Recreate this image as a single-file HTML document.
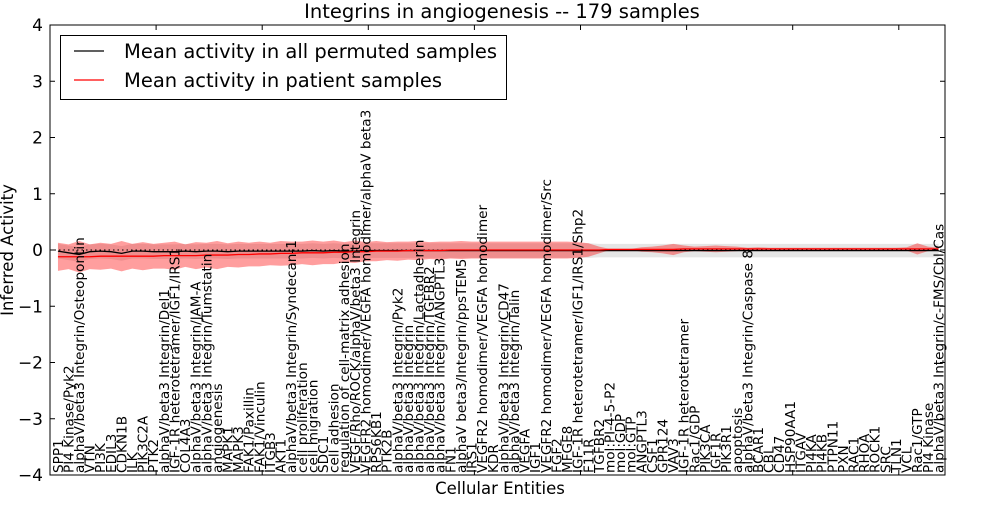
<!DOCTYPE html>
<html><head><meta charset="utf-8"><style>
body{margin:0;background:#fff;width:1000px;height:500px;overflow:hidden}
svg{font-family:"DejaVu Sans","Liberation Sans",sans-serif}
</style></head><body>
<svg id="chart" width="1000" height="500" viewBox="0 0 1000 500" xmlns="http://www.w3.org/2000/svg">
<g id="bands"></g><g id="lines"></g><g id="labels"></g><g id="axes"></g>
</svg>
<script>
const categories=["SPP1","PI4 Kinase/Pyk2","alphaV/beta3 Integrin/Osteopontin","VTN","PI3K","EDIL3","CDKN1B","ILK","PIK3C2A","PTK2","alphaV/beta3 Integrin/Del1","IGF-1R heterotetramer/IGF1/IRS1","COL4A3","alphaV/beta3 Integrin/JAM-A","alphaV/beta3 Integrin/Tumstatin","angiogenesis","MAPK1","MAPK3","FAK1/Paxillin","FAK1/Vinculin","ITGB3","AKT1","alphaV/beta3 Integrin/Syndecan-1","cell proliferation","cell migration","SDC1","cell adhesion","regulation of cell-matrix adhesion","VEGF/Rho/ROCK/alphaV/beta3 Integrin","VEGFR2 homodimer/VEGFA homodimer/alphaV beta3","RPS6KB1","PTK2B","alphaV/beta3 Integrin/Pyk2","alphaV/beta3 Integrin","alphaV/beta3 Integrin/Lactadherin","alphaV/beta3 Integrin/TGFBR2","alphaV/beta3 Integrin/ANGPTL3","FN1","alphaV beta3/Integrin/ppsTEM5","IRS1","VEGFR2 homodimer/VEGFA homodimer","KDR","alphaV/beta3 Integrin/CD47","alphaV/beta3 Integrin/Talin","VEGFA","IGF1","VEGFR2 homodimer/VEGFA homodimer/Src","FGF2","MFGE8","IGF-1R heterotetramer/IGF1/IRS1/Shp2","F11R","TGFBR2","mol:PI-4-5-P2","mol:GDP","mol:GTP","ANGPTL3","CSF1","GPR124","VAV3","IGF-1R heterotetramer","Rac1/GDP","PIK3CA","IGF1R","PIK3R1","apoptosis","alphaV/beta3 Integrin/Caspase 8","BCAR1","CBL","CD47","HSP90AA1","ITGAV","PI4KA","PI4KB","PTPN11","PXN","RAC1","RHOA","ROCK1","SRC","TLN1","VCL","Rac1/GTP","PI4 Kinase","alphaV/beta3 Integrin/c-FMS/Cbl/Cas"];
const permMean=[-0.02,-0.05,-0.08,-0.03,-0.02,-0.03,-0.06,-0.02,-0.02,-0.03,-0.03,-0.03,-0.02,-0.03,-0.02,-0.02,-0.03,-0.02,-0.02,-0.02,-0.02,-0.02,-0.02,-0.02,-0.01,-0.02,-0.01,-0.02,-0.02,-0.01,-0.01,-0.01,-0.01,-0.01,-0.01,-0.01,-0.01,-0.01,-0.01,-0.01,-0.01,-0.01,-0.01,-0.01,-0.01,-0.01,-0.01,-0.01,-0.01,-0.01,-0.01,-0.01,-0.01,-0.01,-0.01,-0.01,-0.01,-0.01,-0.01,-0.01,-0.01,-0.01,-0.01,-0.01,-0.01,-0.01,-0.01,-0.01,-0.01,-0.01,-0.01,-0.01,-0.01,-0.01,-0.01,-0.01,-0.01,-0.01,-0.01,-0.01,-0.01,-0.01,-0.01,-0.01];
const permSd=[0.13,0.13,0.13,0.13,0.13,0.13,0.13,0.13,0.13,0.13,0.13,0.13,0.13,0.13,0.13,0.13,0.13,0.13,0.13,0.13,0.13,0.13,0.13,0.13,0.13,0.13,0.13,0.13,0.13,0.13,0.13,0.13,0.13,0.13,0.13,0.13,0.13,0.13,0.13,0.13,0.13,0.13,0.13,0.13,0.13,0.13,0.13,0.13,0.13,0.13,0.13,0.12,0.12,0.12,0.12,0.12,0.12,0.12,0.12,0.12,0.12,0.12,0.12,0.12,0.12,0.12,0.12,0.12,0.12,0.12,0.12,0.12,0.12,0.12,0.12,0.12,0.12,0.12,0.12,0.12,0.12,0.12,0.12,0.12];
const patMean=[-0.12,-0.12,-0.12,-0.12,-0.11,-0.11,-0.11,-0.11,-0.11,-0.11,-0.1,-0.1,-0.1,-0.1,-0.09,-0.09,-0.09,-0.08,-0.08,-0.07,-0.07,-0.06,-0.06,-0.05,-0.05,-0.05,-0.04,-0.04,-0.03,-0.03,-0.02,-0.02,-0.02,-0.01,-0.01,-0.01,-0.01,0,0,0,0,0,0,0,0,0,0,0,0,0,0,0,0.01,0.01,0.01,0.01,0.01,0.01,0.01,0.02,0.02,0.02,0.02,0.02,0.02,0.02,0.02,0.02,0.02,0.02,0.02,0.02,0.02,0.02,0.02,0.02,0.02,0.02,0.02,0.02,0.02,0.02,0.02,0.02];
const patSd=[0.25,0.22,0.28,0.22,0.24,0.22,0.27,0.22,0.25,0.22,0.23,0.25,0.2,0.24,0.22,0.25,0.21,0.23,0.21,0.22,0.2,0.22,0.21,0.2,0.22,0.2,0.21,0.18,0.2,0.17,0.18,0.16,0.17,0.16,0.17,0.15,0.16,0.15,0.16,0.15,0.15,0.15,0.15,0.15,0.15,0.15,0.15,0.15,0.15,0.14,0.12,0.06,0.01,0.01,0.01,0.04,0.05,0.07,0.1,0.06,0.04,0.05,0.06,0.05,0.04,0.02,0.03,0.02,0.02,0.02,0.02,0.02,0.02,0.02,0.02,0.02,0.02,0.02,0.02,0.02,0.03,0.1,0.04,0.02];
const yTicks=[-4,-3,-2,-1,0,1,2,3,4];
const xTicks=[10,20,30,40,50,60,70,80];

const L=50,R=945,T=25,B=475,NS="http://www.w3.org/2000/svg";
const xs=i=>L+(i+0.75)*10.61;
const ys=v=>T+(4-v)*(B-T)/8;
function mk(tag,attrs,parent){const e=document.createElementNS(NS,tag);for(const k in attrs)e.setAttribute(k,attrs[k]);parent.appendChild(e);return e;}
const bands=document.getElementById('bands'),lines=document.getElementById('lines'),labels=document.getElementById('labels'),axes=document.getElementById('axes');
function bandPath(m,s){let up=m.map((v,i)=>`${xs(i)},${ys(v+s[i])}`);let dn=m.map((v,i)=>`${xs(i)},${ys(v-s[i])}`).reverse();return 'M'+up.join('L')+'L'+dn.join('L')+'Z';}
const gb=mk('path',{d:bandPath(permMean,permSd),fill:'#000',opacity:'0.1'},bands);


const rb=mk('path',{d:bandPath(patMean,patSd),fill:'#ff0000',opacity:'0.38'},bands);


const zl=mk('line',{x1:L,x2:R,y1:ys(0),y2:ys(0),stroke:'#000','stroke-dasharray':'1.5,3','stroke-width':1},lines);


const line=(m,c,n)=>{const p=mk('polyline',{points:m.map((v,i)=>`${xs(i)},${ys(v)}`).join(' '),fill:'none',stroke:c,'stroke-width':1.3},lines);

};
line(permMean,'#000','permuted-mean-line');
line(patMean,'#ff0000','patient-mean-line');
categories.forEach((c,i)=>{const t=mk('text',{x:0,y:0,transform:`translate(${xs(i)+4.8},${B-2}) rotate(-90)`,'font-size':'13.6'},labels);t.textContent=c;

});
const fr=mk('rect',{x:L,y:T,width:R-L,height:B-T,fill:'none',stroke:'#000','stroke-width':1},axes);


yTicks.forEach(v=>{const y=ys(v);mk('line',{x1:L,x2:L+5,y1:y,y2:y,stroke:'#000'},axes);mk('line',{x1:R-5,x2:R,y1:y,y2:y,stroke:'#000'},axes);
const t=mk('text',{x:L-7,y:y+6,'text-anchor':'end','font-size':'17'},axes);t.textContent=v===0?'0':(v<0?'\u2212'+(-v):String(v));

});
xTicks.forEach(v=>{const x=L+v*10.61;mk('line',{x1:x,x2:x,y1:T,y2:T+5,stroke:'#000'},axes);mk('line',{x1:x,x2:x,y1:B-5,y2:B,stroke:'#000'},axes);});
</script>
<svg style="position:absolute;left:0;top:0" width="1000" height="500" xmlns="http://www.w3.org/2000/svg" font-family="DejaVu Sans, Liberation Sans, sans-serif">
<text x="502" y="18" text-anchor="middle" font-size="19.5">Integrins in angiogenesis -- 179 samples</text>
<text x="500" y="494" text-anchor="middle" font-size="16.5">Cellular Entities</text>
<text transform="translate(13,250) rotate(-90)" text-anchor="middle" font-size="16.5">Inferred Activity</text>
<g>
<rect x="60.5" y="35.5" width="446" height="64" fill="#fff" stroke="#000"/>
<line x1="74" x2="104" y1="51" y2="51" stroke="#000" stroke-width="1.3"/>
<text x="124" y="58" font-size="19.5">Mean activity in all permuted samples</text>
<line x1="74" x2="104" y1="80" y2="80" stroke="#ff0000" stroke-width="1.3"/>
<text x="124" y="87" font-size="19.5">Mean activity in patient samples</text>
</g>
</svg>
</body></html>
